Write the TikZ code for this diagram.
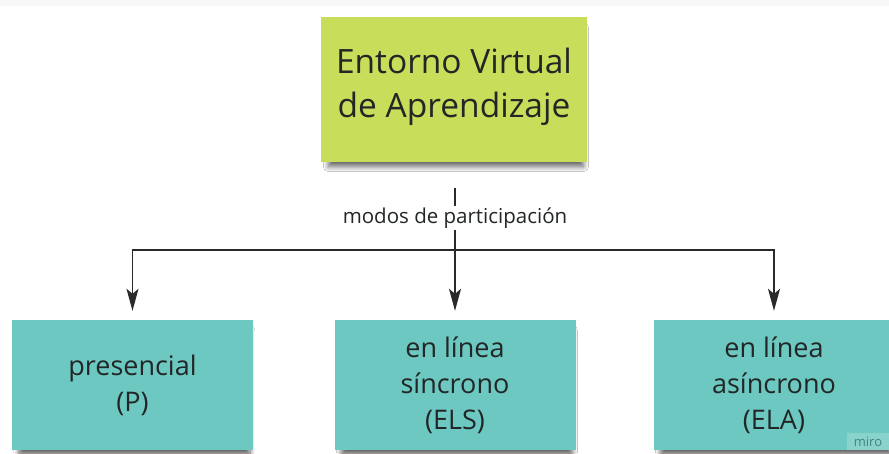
\documentclass[tikz,border=0pt]{standalone}
\usepackage{fontspec}
\setmainfont{Open Sans}
\usetikzlibrary{arrows.meta,shadows.blur}
\definecolor{lime}{HTML}{C8DE5A}
\definecolor{teal}{HTML}{6CC8C1}
\definecolor{ink}{HTML}{222626}
\definecolor{wire}{HTML}{2A2A2A}
\tikzset{
  sticky/.style={draw=none, align=center, text=ink, inner sep=0pt,
    blur shadow={shadow xshift=2pt, shadow yshift=-8pt, shadow opacity=60,
      shadow blur radius=5pt, shadow blur steps=12, shadow scale=0.96}},
  topbox/.style={sticky, fill=lime, minimum width=266pt, minimum height=145pt},
  toptext/.style={align=center, text=ink, inner sep=0pt,
    font=\fontsize{33.5}{44}\selectfont},
  modebox/.style={sticky, fill=teal, minimum width=241pt, minimum height=130pt,
    font=\fontsize{27}{36}\selectfont},
  wireline/.style={draw=wire, line width=1.4pt},
  arrowline/.style={wireline, -{Stealth[length=22pt, width=12pt, inset=5pt]}},
  lbl/.style={fill=white, inner xsep=1pt, inner ysep=2pt, text=ink,
    font=\fontsize{20.5}{22}\selectfont}
}
\begin{document}
\begin{tikzpicture}[x=1pt, y=-1pt]
  \clip (0,0) rectangle (889,453);
  \fill[white] (0,0) rectangle (889,453);
  \fill[black!3] (0,0) rectangle (889,6);
  % nodes
  \node[topbox] (evea) at (454,89.5) {};
  \node[toptext] (eveatext) at (454,86.5) {Entorno Virtual\\de Aprendizaje};
  \node[modebox] (p) at (132.5,385) {presencial\\(P)};
  \node[modebox] (s) at (455,385) {en línea\\síncrono\\(ELS)};
  \node[modebox] (a) at (774,385) {en línea\\asíncrono\\(ELA)};
  % connectors
  \coordinate (t0) at (455,188);
  \coordinate (j) at (455,250);
  \draw[wireline] (t0) -- (j);
  \node[lbl] (modos) at (455,218) {modos de participación};
  \draw[arrowline] (j) -| ([yshift=9pt]p.north);
  \draw[arrowline] (j) -- ([yshift=9pt]s.north);
  \draw[arrowline] (j) -| ([yshift=9pt]a.north);
  % watermark
  \node[fill=white, fill opacity=0.2, text opacity=1, text=black!35!teal,
        minimum width=42pt, minimum height=17pt, inner sep=0pt,
        font=\fontsize{13}{14}\selectfont] (miro) at (868,441.5) {miro};
\end{tikzpicture}
\end{document}
